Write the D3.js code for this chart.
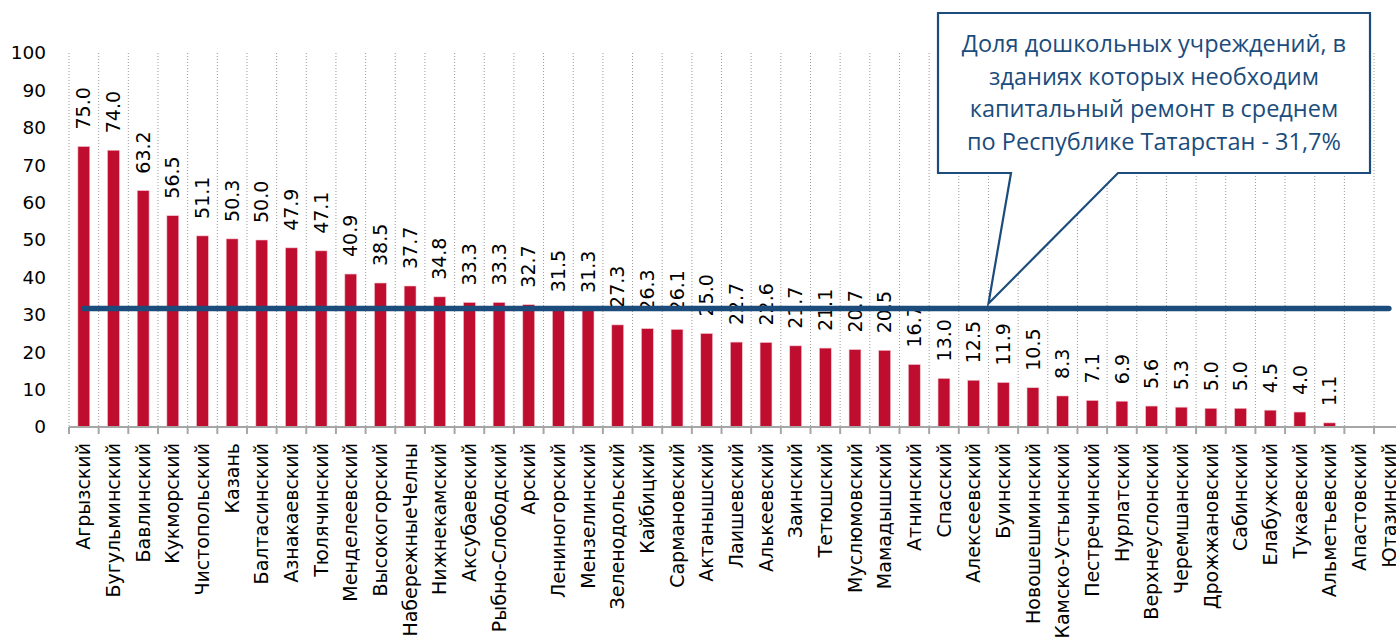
<!DOCTYPE html>
<html>
<head>
<meta charset="utf-8">
<script src="https://cdn.jsdelivr.net/npm/d3@7"></script>
<style>
  body { margin: 0; background: #fff; }
  text { font-family: "DejaVu Sans", sans-serif; }
  text.callout { font-family: "Open Sans", sans-serif; }
</style>
</head>
<body>
<svg id="chart" width="1396" height="640"></svg>
<script>
// districts, sorted as in the picture
var districts = ["Агрызский", "Бугульминский", "Бавлинский", "Кукморский", "Чистопольский",
    "Казань", "Балтасинский", "Азнакаевский", "Тюлячинский", "Менделеевский",
    "Высокогорский", "НабережныеЧелны", "Нижнекамский", "Аксубаевский", "Рыбно-Слободский",
    "Арский", "Лениногорский", "Мензелинский", "Зеленодольский", "Кайбицкий",
    "Сармановский", "Актанышский", "Лаишевский", "Алькеевский", "Заинский",
    "Тетюшский", "Муслюмовский", "Мамадышский", "Атнинский", "Спасский",
    "Алексеевский", "Буинский", "Новошешминский", "Камско-Устьинский", "Пестречинский",
    "Нурлатский", "Верхнеуслонский", "Черемшанский", "Дрожжановский", "Сабинский",
    "Елабужский", "Тукаевский", "Альметьевский", "Апастовский", "Ютазинский"];

// share of kindergartens needing major repair, %
var shares = [75.0, 74.0, 63.2, 56.5, 51.1,
    50.3, 50.0, 47.9, 47.1, 40.9,
    38.5, 37.7, 34.8, 33.3, 33.3,
    32.7, 31.5, 31.3, 27.3, 26.3,
    26.1, 25.0, 22.7, 22.6, 21.7,
    21.1, 20.7, 20.5, 16.7, 13.0,
    12.5, 11.9, 10.5, 8.3, 7.1,
    6.9, 5.6, 5.3, 5.0, 5.0,
    4.5, 4.0, 1.1, null, null];

var average = 31.7;
var yTicks = [0, 10, 20, 30, 40, 50, 60, 70, 80, 90, 100];
var calloutLines = ["Доля дошкольных учреждений, в",
    "зданиях которых необходим",
    "капитальный ремонт в среднем",
    "по Республике Татарстан - 31,7%"];

var data = districts.map(function(d, i) {
    return { name: d, value: shares[i] };
});

var svg = d3.select("#chart");

var plotLeft = 69, plotRight = 1403.7, plotTop = 53, plotBottom = 427;
var barColor = "#BE0D2E";
var blue = "#1B4C7C";

var x = d3.scaleBand()
    .domain(districts)
    .range([plotLeft, plotRight])
    .paddingInner(0.6)
    .paddingOuter(0.3);

var y = d3.scaleLinear()
    .domain([0, 100])
    .range([plotBottom, plotTop]);

// vertical dotted grid at category boundaries
var bounds = d3.range(districts.length + 1).map(function(i) { return plotLeft + i * x.step(); });

svg.append("g")
    .selectAll("line")
    .data(bounds)
    .enter()
    .append("line")
    .attr("x1", function(d) { return d; })
    .attr("x2", function(d) { return d; })
    .attr("y1", y(100))
    .attr("y2", y(0))
    .attr("stroke", "#9a9a9a")
    .attr("stroke-width", 1)
    .attr("stroke-dasharray", "1,2");

// y axis labels only
var yAxis = d3.axisLeft(y).tickValues(yTicks).tickSize(0).tickPadding(0);
var yg = svg.append("g")
    .attr("transform", "translate(46,0)")
    .call(yAxis);
yg.select(".domain").remove();
yg.selectAll("text")
    .attr("font-size", 18.5)
    .attr("fill", "#000");

// bars
svg.append("g")
    .selectAll("rect")
    .data(data.filter(function(d) { return d.value != null; }))
    .enter()
    .append("rect")
    .attr("x", function(d) { return x(d.name); })
    .attr("width", x.bandwidth())
    .attr("y", function(d) { return y(d.value); })
    .attr("height", function(d) { return y(0) - y(d.value); })
    .attr("fill", barColor)
    .attr("stroke", "#f2c4cc")
    .attr("stroke-width", 0.6);

// x axis line and ticks at boundaries
svg.append("line")
    .attr("x1", plotLeft).attr("x2", plotRight)
    .attr("y1", y(0)).attr("y2", y(0))
    .attr("stroke", "#a6a6a6")
    .attr("stroke-width", 2);

svg.append("g")
    .selectAll("line")
    .data(bounds)
    .enter()
    .append("line")
    .attr("x1", function(d) { return d; })
    .attr("x2", function(d) { return d; })
    .attr("y1", y(0))
    .attr("y2", y(0) + 7)
    .attr("stroke", "#a6a6a6")
    .attr("stroke-width", 2);

// category labels, rotated
svg.append("g")
    .selectAll("text")
    .data(data)
    .enter()
    .append("text")
    .attr("transform", function(d) {
        return "translate(" + (x(d.name) + x.bandwidth() / 2) + "," + (y(0) + 16) + ") rotate(-90)";
    })
    .attr("dy", "0.35em")
    .attr("text-anchor", "end")
    .attr("font-size", 19)
    .attr("fill", "#000")
    .text(function(d) { return d.name; });

// value labels above bars
var fmt = d3.format(".1f");
svg.append("g")
    .selectAll("text")
    .data(data.filter(function(d) { return d.value != null; }))
    .enter()
    .append("text")
    .attr("transform", function(d) {
        return "translate(" + (x(d.name) + x.bandwidth() / 2) + "," + (y(d.value) - 17) + ") rotate(-90)";
    })
    .attr("dy", "0.35em")
    .attr("text-anchor", "start")
    .attr("font-size", 19)
    .attr("fill", "#000")
    .text(function(d) { return fmt(d.value); });

// average line
var firstC = x(districts[0]) + x.bandwidth() / 2;
var lastC = x(districts[districts.length - 1]) + x.bandwidth() / 2;
svg.append("line")
    .attr("x1", firstC).attr("x2", lastC)
    .attr("y1", y(average)).attr("y2", y(average))
    .attr("stroke", blue)
    .attr("stroke-width", 5.5)
    .attr("stroke-linecap", "round");

// callout
var bx0 = 938, bx1 = 1370, by0 = 13, by1 = 173;
var tipX = x("Буинский") - (x.step() - x.bandwidth()) / 2;
var tipY = y(average) - 5;
var callout = d3.path();
callout.moveTo(bx0, by0);
callout.lineTo(bx1, by0);
callout.lineTo(bx1, by1);
callout.lineTo(1118, by1);
callout.lineTo(tipX, tipY);
callout.lineTo(1011, by1);
callout.lineTo(bx0, by1);
callout.closePath();

svg.append("path")
    .attr("d", callout.toString())
    .attr("fill", "#fff")
    .attr("stroke", blue)
    .attr("stroke-width", 2.2)
    .attr("stroke-linejoin", "miter");

svg.append("g")
    .selectAll("text")
    .data(calloutLines)
    .enter()
    .append("text")
    .attr("class", "callout")
    .attr("x", (bx0 + bx1) / 2)
    .attr("y", function(d, i) { return 52 + i * 32.5; })
    .attr("text-anchor", "middle")
    .attr("font-size", 23.5)
    .attr("fill", blue)
    .text(function(d) { return d; });
</script>
</body>
</html>
